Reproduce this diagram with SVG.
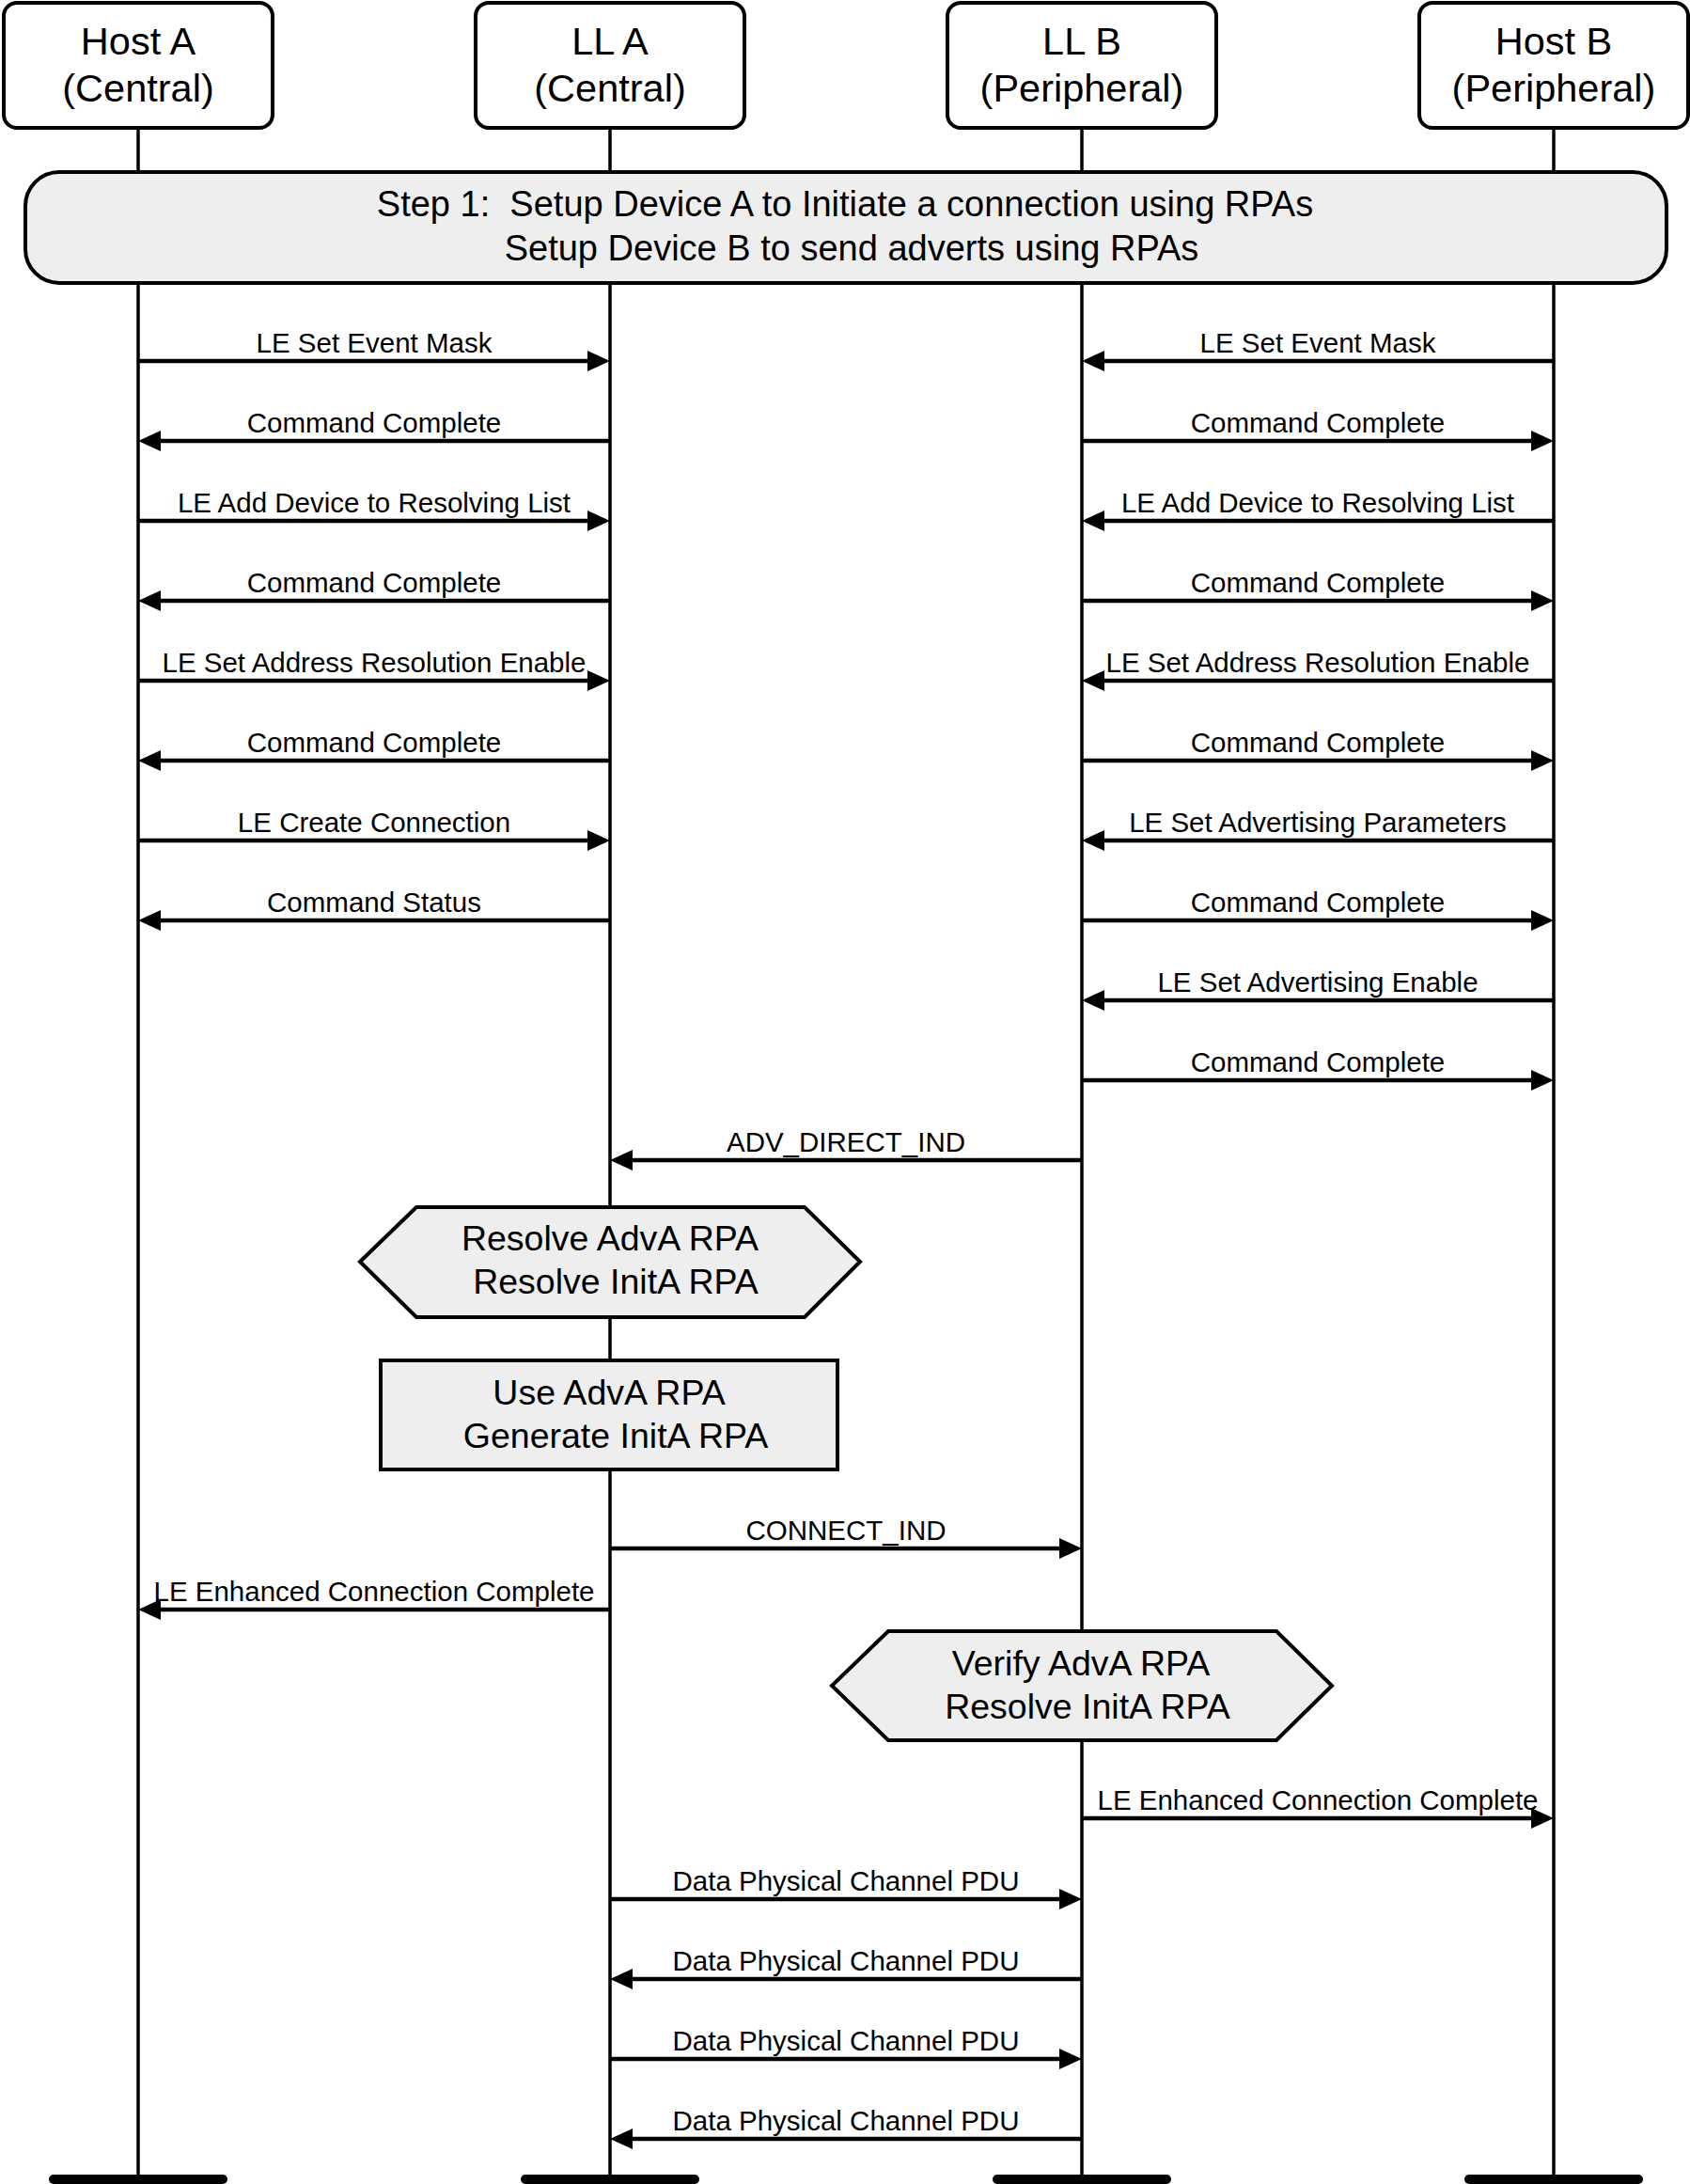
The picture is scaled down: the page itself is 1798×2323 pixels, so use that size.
<svg xmlns="http://www.w3.org/2000/svg" width="1798" height="2323" viewBox="0 0 1798 2323">
<style>
.box{fill:#fff;stroke:#000;stroke-width:4}
.shade{fill:#eeeeee;stroke:#000;stroke-width:4}
.life{stroke:#000;stroke-width:3.5}
.msg{stroke:#000;stroke-width:4.5;fill:none;marker-end:url(#ah)}
.bar{stroke:#000;stroke-width:10;stroke-linecap:round}
text{font-family:"Liberation Sans",Arial,sans-serif;fill:#000;text-anchor:middle}
.head{font-size:41.5px}
.step{font-size:38px}
.act{font-size:37.5px}
.lbl{font-size:29.5px}
</style>
<defs>
<marker id="ah" markerUnits="userSpaceOnUse" markerWidth="24" markerHeight="22" refX="12" refY="11" orient="auto"><path d="M0,0 L24,11 L0,22 z" fill="#000"/></marker>
</defs>
<rect width="1798" height="2323" fill="#fff"/>
<g id="lifelines">
<line class="life" x1="147" y1="136" x2="147" y2="2314"/>
<line class="life" x1="649" y1="136" x2="649" y2="2314"/>
<line class="life" x1="1151" y1="136" x2="1151" y2="2314"/>
<line class="life" x1="1653" y1="136" x2="1653" y2="2314"/>
<line class="bar" x1="57" y1="2318" x2="237" y2="2318"/>
<line class="bar" x1="559" y1="2318" x2="739" y2="2318"/>
<line class="bar" x1="1061" y1="2318" x2="1241" y2="2318"/>
<line class="bar" x1="1563" y1="2318" x2="1743" y2="2318"/>
</g>
<g id="hostA"><rect class="box" x="4" y="3" width="286" height="133" rx="14"/><text class="head" x="147" y="58">Host A</text><text class="head" x="147" y="108">(Central)</text></g>
<g id="llA"><rect class="box" x="506" y="3" width="286" height="133" rx="14"/><text class="head" x="649" y="58">LL A</text><text class="head" x="649" y="108">(Central)</text></g>
<g id="llB"><rect class="box" x="1008" y="3" width="286" height="133" rx="14"/><text class="head" x="1151" y="58">LL B</text><text class="head" x="1151" y="108">(Peripheral)</text></g>
<g id="hostB"><rect class="box" x="1510" y="3" width="286" height="133" rx="14"/><text class="head" x="1653" y="58">Host B</text><text class="head" x="1653" y="108">(Peripheral)</text></g>
<g id="step1"><rect class="shade" x="27" y="183" width="1746" height="118" rx="36"/><text class="step" x="899" y="230" xml:space="preserve">Step 1:  Setup Device A to Initiate a connection using RPAs</text><text class="step" x="906" y="277">Setup Device B to send adverts using RPAs</text></g>
<g id="resolveA"><polygon class="shade" points="383,1342 443,1284 856,1284 915,1342 856,1401 443,1401"/><text class="act" x="649" y="1330">Resolve AdvA RPA</text><text class="act" x="655" y="1376">Resolve InitA RPA</text></g>
<g id="useAdvA"><rect class="shade" x="405" y="1447" width="486" height="116"/><text class="act" x="648" y="1494">Use AdvA RPA</text><text class="act" x="655" y="1540">Generate InitA RPA</text></g>
<g id="verifyB"><polygon class="shade" points="885,1793 945,1735 1358,1735 1417,1793 1358,1851 945,1851"/><text class="act" x="1150" y="1782">Verify AdvA RPA</text><text class="act" x="1157" y="1828">Resolve InitA RPA</text></g>
<g id="connectors">
<line class="msg" x1="147" y1="384" x2="637" y2="384"/><text class="lbl" x="398" y="375">LE Set Event Mask</text>
<line class="msg" x1="649" y1="469" x2="159" y2="469"/><text class="lbl" x="398" y="460">Command Complete</text>
<line class="msg" x1="147" y1="554" x2="637" y2="554"/><text class="lbl" x="398" y="545">LE Add Device to Resolving List</text>
<line class="msg" x1="649" y1="639" x2="159" y2="639"/><text class="lbl" x="398" y="630">Command Complete</text>
<line class="msg" x1="147" y1="724" x2="637" y2="724"/><text class="lbl" x="398" y="715">LE Set Address Resolution Enable</text>
<line class="msg" x1="649" y1="809" x2="159" y2="809"/><text class="lbl" x="398" y="800">Command Complete</text>
<line class="msg" x1="147" y1="894" x2="637" y2="894"/><text class="lbl" x="398" y="885">LE Create Connection</text>
<line class="msg" x1="649" y1="979" x2="159" y2="979"/><text class="lbl" x="398" y="970">Command Status</text>
<line class="msg" x1="1653" y1="384" x2="1163" y2="384"/><text class="lbl" x="1402" y="375">LE Set Event Mask</text>
<line class="msg" x1="1151" y1="469" x2="1641" y2="469"/><text class="lbl" x="1402" y="460">Command Complete</text>
<line class="msg" x1="1653" y1="554" x2="1163" y2="554"/><text class="lbl" x="1402" y="545">LE Add Device to Resolving List</text>
<line class="msg" x1="1151" y1="639" x2="1641" y2="639"/><text class="lbl" x="1402" y="630">Command Complete</text>
<line class="msg" x1="1653" y1="724" x2="1163" y2="724"/><text class="lbl" x="1402" y="715">LE Set Address Resolution Enable</text>
<line class="msg" x1="1151" y1="809" x2="1641" y2="809"/><text class="lbl" x="1402" y="800">Command Complete</text>
<line class="msg" x1="1653" y1="894" x2="1163" y2="894"/><text class="lbl" x="1402" y="885">LE Set Advertising Parameters</text>
<line class="msg" x1="1151" y1="979" x2="1641" y2="979"/><text class="lbl" x="1402" y="970">Command Complete</text>
<line class="msg" x1="1653" y1="1064" x2="1163" y2="1064"/><text class="lbl" x="1402" y="1055">LE Set Advertising Enable</text>
<line class="msg" x1="1151" y1="1149" x2="1641" y2="1149"/><text class="lbl" x="1402" y="1140">Command Complete</text>
<line class="msg" x1="1151" y1="1234" x2="661" y2="1234"/><text class="lbl" x="900" y="1225">ADV_DIRECT_IND</text>
<line class="msg" x1="649" y1="1647" x2="1139" y2="1647"/><text class="lbl" x="900" y="1638">CONNECT_IND</text>
<line class="msg" x1="649" y1="1712" x2="159" y2="1712"/><text class="lbl" x="398" y="1703">LE Enhanced Connection Complete</text>
<line class="msg" x1="1151" y1="1934" x2="1641" y2="1934"/><text class="lbl" x="1402" y="1925">LE Enhanced Connection Complete</text>
<line class="msg" x1="649" y1="2020" x2="1139" y2="2020"/><text class="lbl" x="900" y="2011">Data Physical Channel PDU</text>
<line class="msg" x1="1151" y1="2105" x2="661" y2="2105"/><text class="lbl" x="900" y="2096">Data Physical Channel PDU</text>
<line class="msg" x1="649" y1="2190" x2="1139" y2="2190"/><text class="lbl" x="900" y="2181">Data Physical Channel PDU</text>
<line class="msg" x1="1151" y1="2275" x2="661" y2="2275"/><text class="lbl" x="900" y="2266">Data Physical Channel PDU</text>
</g>
</svg>
